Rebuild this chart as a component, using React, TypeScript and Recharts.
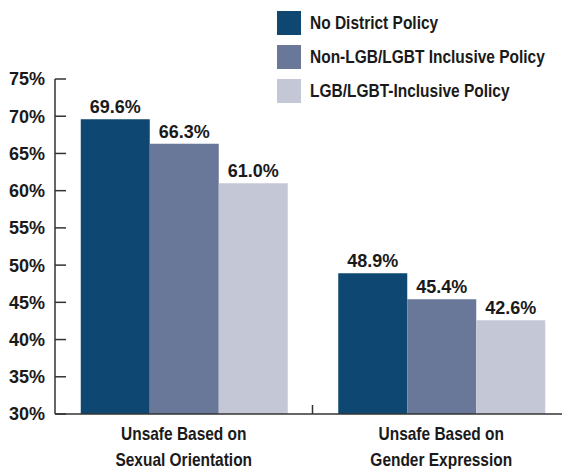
import { BarChart, Bar, XAxis, YAxis, LabelList, Legend } from "recharts";

const categories = ["Unsafe Based on\nSexual Orientation", "Unsafe Based on\nGender Expression"];
const noPolicy = [69.6, 48.9];
const nonInclusive = [66.3, 45.4];
const inclusive = [61.0, 42.6];
const yTicks = [30, 35, 40, 45, 50, 55, 60, 65, 70, 75];

const series = [
  { key: "noPolicy", name: "No District Policy", color: "#0d4772" },
  { key: "nonInclusive", name: "Non-LGB/LGBT Inclusive Policy", color: "#697899" },
  { key: "inclusive", name: "LGB/LGBT-Inclusive Policy", color: "#c4c7d6" },
];

const data = categories.map((c, i) => ({
  category: c,
  noPolicy: noPolicy[i],
  nonInclusive: nonInclusive[i],
  inclusive: inclusive[i],
}));

const W = 562;
const H = 461;
const Y_AXIS_W = 47;
const BAND = (W - Y_AXIS_W) / categories.length;
const FONT = "'Liberation Sans', Arial, sans-serif";
const SQUEEZE = 0.86; // condensed look of the original lettering
const AXIS = "#333";
const INK = "#1a1a1a";

const CategoryTick = ({ x, y, payload, index }: any) => {
  const lines = String(payload.value).split("\n");
  return (
    <g>
      {index === 0 && (
        <line x1={x + BAND / 2} x2={x + BAND / 2} y1={y} y2={y - 9} stroke={AXIS} strokeWidth={1.5} />
      )}
      {lines.map((l, i) => (
        <text
          key={i}
          transform={`translate(${x},${y + 26 + i * 26}) scale(${SQUEEZE},1)`}
          textAnchor="middle"
          fontFamily={FONT}
          fontWeight="bold"
          fontSize={18}
          fill={INK}
        >
          {l}
        </text>
      ))}
    </g>
  );
};

const LegendBox = () => (
  <div style={{ fontFamily: FONT, fontWeight: "bold", fontSize: 18, color: INK, lineHeight: 1 }}>
    {series.map((s) => (
      <div key={s.key} style={{ display: "flex", alignItems: "center", height: 34, whiteSpace: "nowrap" }}>
        <span style={{ width: 24, height: 24, background: s.color, marginRight: 9, display: "inline-block", flexShrink: 0 }} />
        <span style={{ display: "inline-block", transform: `scaleX(${SQUEEZE})`, transformOrigin: "left center" }}>
          {s.name}
        </span>
      </div>
    ))}
  </div>
);

export default function App() {
  return (
    <BarChart
      width={W}
      height={H}
      data={data}
      margin={{ top: 71, right: 0, left: 0, bottom: 0 }}
      barGap={0}
      barCategoryGap="10%"
    >
      <XAxis
        dataKey="category"
        height={55}
        tickLine={false}
        tickSize={0}
        tickMargin={0}
        axisLine={{ stroke: AXIS, strokeWidth: 1.5 }}
        tick={<CategoryTick />}
        interval={0}
      />
      <YAxis
        width={Y_AXIS_W}
        domain={[30, 75]}
        ticks={yTicks}
        allowDataOverflow
        tickFormatter={(v) => `${v}%`}
        tickSize={-11}
        tickMargin={21}
        tickLine={{ stroke: AXIS, strokeWidth: 1.5 }}
        axisLine={{ stroke: AXIS, strokeWidth: 1.5 }}
        tick={{ fontFamily: FONT, fontWeight: "bold", fontSize: 18, fill: INK }}
      />
      <Legend
        layout="vertical"
        align="center"
        verticalAlign="middle"
        content={<LegendBox />}
        wrapperStyle={{ top: -2, left: 269, width: 290, height: "auto" }}
      />
      {series.map((s) => (
        <Bar key={s.key} dataKey={s.key} name={s.name} fill={s.color} isAnimationActive={false}>
          <LabelList
            dataKey={s.key}
            position="top"
            offset={6}
            formatter={(v: any) => `${Number(v).toFixed(1)}%`}
            style={{ fontFamily: FONT, fontWeight: "bold", fontSize: 18, fill: INK }}
          />
        </Bar>
      ))}
    </BarChart>
  );
}
